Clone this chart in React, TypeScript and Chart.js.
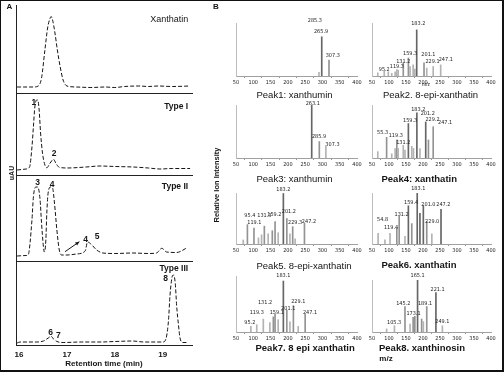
import React, { useEffect, useRef } from "react";
import { Chart, registerables } from "chart.js";

Chart.register(...registerables);

const SANS = "'Liberation Sans', Arial, Helvetica, sans-serif";
const NARROW = "'Liberation Sans Narrow', 'DejaVu Sans Condensed', 'Liberation Sans', sans-serif";
const INK = "#151515";

// ---------------- Panel A: chromatograms ----------------
const retentionTicks = [16, 17, 18, 19];

const xanthatinTime = [15.96, 16.3, 16.4, 16.47, 16.54, 16.6, 16.65, 16.67, 16.7, 16.75, 16.8, 16.86, 16.92, 17.0, 17.2, 17.5, 17.8, 18.0, 18.2, 18.5, 18.7, 18.9, 19.2, 19.57];
const xanthatinSignal = [1, 1, 2, 10, 38, 61, 70, 71.5, 68, 55, 38, 21, 8, 2, 1, 0.5, 1, 0.5, 1.5, 2, 1.5, 2, 1.5, 2];

const type1Time = [15.96, 16.15, 16.22, 16.27, 16.3, 16.33, 16.37, 16.39, 16.42, 16.45, 16.49, 16.54, 16.58, 16.65, 16.72, 16.77, 16.84, 17.0, 17.4, 17.69, 18.0, 18.38, 18.7, 18.94, 19.2, 19.57];
const type1Signal = [0, 1, 3, 23, 43, 63, 70, 70, 60, 37, 17, 5, 2.3, 7, 10.7, 6.7, 2.7, 2, 3, 4, 3.5, 3, 2, 1, 1.5, 1.5];

const type2Time = [15.96, 16.15, 16.19, 16.27, 16.3, 16.35, 16.39, 16.44, 16.47, 16.51, 16.53, 16.56, 16.58, 16.61, 16.66, 16.7, 16.74, 16.79, 16.84, 16.89, 17.0, 17.2, 17.38, 17.43, 17.52, 17.62, 17.75, 18.0, 18.38, 18.7, 18.87, 18.98, 19.08, 19.29, 19.5];
const type2Signal = [0, 0.5, 1, 36, 59, 69, 69, 56, 33, 9, 4, 16, 43, 64, 69, 68, 53, 26, 6, 1, 1, 2, 5, 14, 11, 6, 3, 2.5, 3, 2.5, 3, 7.7, 4, 3.5, 8];

const type3Time = [15.96, 16.02, 16.37, 16.51, 16.61, 16.67, 16.72, 16.79, 16.92, 17.3, 17.69, 18.0, 18.38, 18.6, 18.87, 19.01, 19.08, 19.12, 19.15, 19.19, 19.22, 19.26, 19.29, 19.33, 19.36, 19.42, 19.5];
const type3Signal = [0, 1, 1, 2, 5, 6.7, 4, 1.5, 0.5, 1, 1, 1.5, 2, 1, 1, 1, 7, 23, 47, 65, 68, 60, 37, 17, 5, 0.5, 0.5];

// [text, retention time, signal]
const xanthatinNotes: [string, number, number][] = [["Xanthatin", 19.53, 68]];
const type1Notes: [string, number, number][] = [["Type I", 19.53, 63], ["1", 16.31, 67], ["2", 16.73, 16.3]];
const type2Notes: [string, number, number][] = [["Type II", 19.53, 69.5], ["3", 16.39, 73], ["4", 16.69, 71.5], ["4", 17.39, 16], ["5", 17.63, 19]];
const type3Notes: [string, number, number][] = [["Type III", 19.53, 74], ["6", 16.66, 10.3], ["7", 16.82, 7], ["8", 19.06, 64.3]];
const type2Arrow: [number, number, number, number] = [16.96, 4.3, 17.26, 14.3];

// ---------------- Panel B: mass spectra ----------------
const mzTicks = [50, 100, 150, 200, 250, 300, 350, 400];

const peak1Mz = [290, 298, 319];
const peak1Int = [7, 74, 30];
const peak1Labels: [string, number, number][] = [["285.3", 278, 104], ["265.9", 296, 83], ["307.3", 330, 38]];

const peak2Mz = [67, 86, 98, 108, 118, 123, 127, 142, 157, 162, 171, 176, 181.5, 203, 211, 230, 252];
const peak2Int = [6, 9, 8, 5, 8, 12, 11, 25, 34, 18, 21, 13, 87, 25, 15, 18, 21];
const peak2Labels: [string, number, number][] = [["183.2", 186, 98], ["159.3", 162, 43], ["131.2", 142, 28], ["119.3", 123, 18], ["95.2", 86, 13], ["201.1", 216, 41], ["229.1", 228, 28], ["247.1", 267, 31]];

const peak3Mz = [269, 291, 310];
const peak3Int = [100, 31, 22];
const peak3Labels: [string, number, number][] = [["263.1", 272, 103], ["285.9", 290, 40], ["307.3", 329, 25]];

const peak4Mz = [67, 93, 108, 118, 123, 127, 142, 147, 157, 167, 172, 182, 191, 208, 216, 230];
const peak4Int = [12, 39, 8, 18, 34, 18, 24, 15, 65, 22, 18, 85, 18, 68, 34, 59];
const peak4Labels: [string, number, number][] = [["183.2", 186, 91], ["201.2", 214, 83], ["159.3", 162, 70], ["229.2", 228, 73], ["247.1", 265, 67], ["55.3", 81, 48], ["119.3", 120, 42], ["131.2", 142, 30]];

const peak5Mz = [71, 83, 102, 115, 124, 132, 143, 155, 163, 172, 187, 197, 206, 214, 221, 248];
const peak5Int = [8, 38, 31, 12, 18, 35, 20, 26, 44, 22, 99, 50, 20, 34, 10, 41];
const peak5Labels: [string, number, number][] = [["183.2", 187, 107], ["159.2", 161, 58], ["201.2", 203, 63], ["229.3", 221, 42], ["247.2", 261, 44], ["95.4", 90, 55], ["119.1", 103, 42], ["131.3", 132, 55]];

const peak6Mz = [68, 88, 103, 123, 130, 147, 157, 167, 183, 191, 201, 211, 226, 253];
const peak6Int = [21, 8, 21, 31, 55, 15, 75, 40, 100, 60, 75, 44, 20, 68];
const peak6Labels: [string, number, number][] = [["183.1", 186, 109], ["159.4", 165, 81], ["201.0", 216, 78], ["247.2", 260, 78], ["229.0", 227, 44], ["131.2", 137, 58], ["54.8", 81, 47], ["119.4", 106, 32]];

const peak7Mz = [93, 110, 129, 148, 158, 163, 172, 187, 197, 206, 216, 230, 250];
const peak7Int = [10, 13, 23, 17, 27, 32, 22, 91, 39, 18, 47, 10, 32];
const peak7Labels: [string, number, number][] = [["183.1", 187, 100], ["131.2", 134, 52], ["119.3", 110, 35], ["159.1", 168, 35], ["201.1", 201, 42], ["229.1", 230, 54], ["247.1", 264, 35], ["95.2", 90, 17]];

const peak8Mz = [93, 116, 147, 162, 171, 176, 184, 196, 201, 211, 238, 257];
const peak8Int = [6, 12, 49, 15, 28, 30, 100, 25, 20, 49, 76, 12];
const peak8Labels: [string, number, number][] = [["165.1", 184, 108], ["221.1", 243, 82], ["145.2", 142, 54], ["189.1", 206, 54], ["173.1", 172, 36], ["105.3", 115, 19], ["249.1", 257, 21]];

// ---------------- plugin: text notes & arrow at data coordinates ----------------
const notesPlugin = {
  id: "notes",
  afterDatasetsDraw(chart: any, _args: any, opts: any) {
    const { ctx, scales } = chart;
    const xs = scales.x;
    const ys = scales.y;
    ctx.save();
    ctx.textBaseline = "middle";
    for (const n of opts.items || []) {
      ctx.font = n.font;
      ctx.fillStyle = n.color || INK;
      ctx.textAlign = n.align || "center";
      ctx.fillText(n.text, xs.getPixelForValue(n.x), ys.getPixelForValue(n.y));
    }
    if (opts.arrow) {
      const [x1, y1, x2, y2] = opts.arrow;
      const px1 = xs.getPixelForValue(x1);
      const py1 = ys.getPixelForValue(y1);
      const px2 = xs.getPixelForValue(x2);
      const py2 = ys.getPixelForValue(y2);
      const ang = Math.atan2(py2 - py1, px2 - px1);
      ctx.strokeStyle = INK;
      ctx.fillStyle = INK;
      ctx.lineWidth = 1;
      ctx.beginPath();
      ctx.moveTo(px1, py1);
      ctx.lineTo(px2, py2);
      ctx.stroke();
      const L = 4.5;
      ctx.beginPath();
      ctx.moveTo(px2, py2);
      ctx.lineTo(px2 - L * Math.cos(ang - 0.45), py2 - L * Math.sin(ang - 0.45));
      ctx.lineTo(px2 - L * Math.cos(ang + 0.45), py2 - L * Math.sin(ang + 0.45));
      ctx.closePath();
      ctx.fill();
    }
    ctx.restore();
  },
};

type Box = { x: number; y: number; w: number; h: number };

function ChartBox({ box, make }: { box: Box; make: () => any }) {
  const ref = useRef<HTMLCanvasElement | null>(null);
  useEffect(() => {
    if (!ref.current) return;
    const chart = new Chart(ref.current, make());
    return () => chart.destroy();
  }, []);
  return (
    <canvas
      ref={ref}
      width={box.w}
      height={box.h}
      style={{ position: "absolute", left: box.x, top: box.y, width: box.w, height: box.h }}
    />
  );
}

const TYPE_FONT = `bold 8.5px ${SANS}`;
const NAME_FONT = `9px ${SANS}`;
const NUM_FONT = `bold 8.5px ${SANS}`;

function chromConfig(p: {
  time: number[];
  signal: number[];
  yMin: number;
  yMax: number;
  padTop: number;
  xHeight: number;
  notes: [string, number, number][];
  arrow?: [number, number, number, number];
  bottom?: boolean;
  plainTitle?: boolean;
}) {
  const items = p.notes.map(([text, x, y], i) => ({
    text,
    x,
    y,
    font: i === 0 ? (p.plainTitle ? NAME_FONT : TYPE_FONT) : NUM_FONT,
    align: i === 0 ? "right" : "center",
  }));
  return {
    type: "line",
    data: {
      datasets: [
        {
          data: p.time.map((t, i) => ({ x: t, y: p.signal[i] })),
          borderColor: INK,
          borderWidth: 1,
          borderDash: [4, 2],
          pointRadius: 0,
          cubicInterpolationMode: "monotone",
          fill: false,
        },
      ],
    },
    options: {
      animation: false,
      responsive: false,
      events: [],
      layout: { padding: { left: 16, right: 8, top: p.padTop, bottom: 0 } },
      plugins: {
        legend: { display: false },
        tooltip: { enabled: false },
        notes: { items, arrow: p.arrow },
      },
      scales: {
        x: {
          type: "linear",
          min: 15.937,
          max: 19.61,
          offset: false,
          afterFit: (s: any) => {
            s.height = p.xHeight;
          },
          afterBuildTicks: (s: any) => {
            s.ticks = retentionTicks.map((v) => ({ value: v }));
          },
          grid: { display: false, drawTicks: false },
          border: { display: true, color: "#222", width: 1 },
          ticks: {
            display: !!p.bottom,
            padding: 5,
            color: INK,
            maxRotation: 0,
            autoSkip: false,
            font: { family: SANS, size: 8, weight: "bold" },
          },
          title: {
            display: !!p.bottom,
            text: "Retention time (min)",
            color: INK,
            font: { family: SANS, size: 8, weight: "bold" },
            padding: { top: 0, bottom: 3.7 },
          },
        },
        y: {
          min: p.yMin,
          max: p.yMax,
          afterFit: (s: any) => {
            s.width = 0;
          },
          grid: { display: false, drawTicks: false },
          border: { display: true, color: "#222", width: 1 },
          ticks: { display: false },
        },
      },
    },
    plugins: [notesPlugin],
  };
}

function barColor(v: number) {
  if (v >= 60) return "#666666";
  if (v >= 25) return "#939393";
  return "#b3b3b3";
}

function specConfig(mz: number[], inten: number[], labels: [string, number, number][]) {
  return {
    type: "bar",
    data: {
      datasets: [
        {
          data: mz.map((m, i) => ({ x: m, y: inten[i] })),
          backgroundColor: inten.map(barColor),
          barThickness: 1,
        },
      ],
    },
    options: {
      animation: false,
      responsive: false,
      events: [],
      layout: { padding: { left: 14, right: 14, top: 12, bottom: 0 } },
      plugins: {
        legend: { display: false },
        tooltip: { enabled: false },
        notes: {
          items: labels.map(([text, x, y]) => ({ text, x, y, font: `5.5px ${NARROW}`, color: "#222" })),
        },
      },
      scales: {
        x: {
          type: "linear",
          min: 50,
          max: 400,
          offset: false,
          afterFit: (s: any) => {
            s.height = 12;
          },
          afterBuildTicks: (s: any) => {
            s.ticks = mzTicks.map((v) => ({ value: v }));
          },
          grid: { display: true, drawOnChartArea: false, drawTicks: true, tickLength: 2, color: "#999" },
          border: { display: true, color: "#a0a0a0", width: 1, dash: [2, 1] },
          ticks: {
            padding: 1,
            color: "#222",
            maxRotation: 0,
            autoSkip: false,
            font: { family: NARROW, size: 5.5 },
          },
        },
        y: {
          min: 0,
          max: 100,
          afterFit: (s: any) => {
            s.width = 0;
          },
          grid: { display: false, drawTicks: false },
          border: { display: true, color: "#bdbdbd", width: 1 },
          ticks: { display: false },
        },
      },
    },
    plugins: [notesPlugin],
  };
}

function specBox(left: number, right: number, top: number, base: number): Box {
  const y = top - 12;
  return { x: left - 14, y, w: right - left + 28, h: base - y + 12 };
}

function Txt({
  x,
  y,
  text,
  size,
  weight = "bold",
  anchor = "center",
}: {
  x: number;
  y: number;
  text: string;
  size: number;
  weight?: string;
  anchor?: "center" | "left";
}) {
  const tx = anchor === "center" ? "-50%" : "0";
  return (
    <div
      style={{
        position: "absolute",
        left: x,
        top: y,
        transform: `translate(${tx}, -50%)`,
        whiteSpace: "nowrap",
        fontFamily: SANS,
        fontSize: size,
        fontWeight: weight as any,
        color: INK,
        lineHeight: 1,
      }}
    >
      {text}
    </div>
  );
}

function RotTxt({ x, y, text, size }: { x: number; y: number; text: string; size: number }) {
  return (
    <div
      style={{
        position: "absolute",
        left: x,
        top: y,
        transform: "translate(-50%, -50%) rotate(-90deg)",
        whiteSpace: "nowrap",
        fontFamily: SANS,
        fontSize: size,
        fontWeight: "bold",
        color: INK,
        lineHeight: 1,
      }}
    >
      {text}
    </div>
  );
}

const C1 = [236, 357];
const C2 = [372, 491];

export default function App() {
  return (
    <div style={{ position: "fixed", left: 0, top: 0, width: 504, height: 372, background: "#fff", overflow: "hidden" }}>
      {/* Panel A */}
      <ChartBox
        box={{ x: 0, y: 0, w: 200, h: 95 }}
        make={() => chromConfig({ time: xanthatinTime, signal: xanthatinSignal, yMin: -5, yMax: 83, padTop: 5, xHeight: 2, notes: xanthatinNotes, plainTitle: true })}
      />
      <ChartBox
        box={{ x: 0, y: 90, w: 200, h: 88 }}
        make={() => chromConfig({ time: type1Time, signal: type1Signal, yMin: -5, yMax: 77, padTop: 3, xHeight: 3, notes: type1Notes })}
      />
      <ChartBox
        box={{ x: 0, y: 172, w: 200, h: 92 }}
        make={() => chromConfig({ time: type2Time, signal: type2Signal, yMin: -5, yMax: 81, padTop: 3, xHeight: 3, notes: type2Notes, arrow: type2Arrow })}
      />
      <ChartBox
        box={{ x: 0, y: 258, w: 200, h: 114 }}
        make={() => chromConfig({ time: type3Time, signal: type3Signal, yMin: -2, yMax: 82, padTop: 3, xHeight: 27, notes: type3Notes, bottom: true })}
      />

      {/* Panel B */}
      <ChartBox box={specBox(C1[0], C1[1], 23, 76)} make={() => specConfig(peak1Mz, peak1Int, peak1Labels)} />
      <ChartBox box={specBox(C2[0], C2[1], 23, 76)} make={() => specConfig(peak2Mz, peak2Int, peak2Labels)} />
      <ChartBox box={specBox(C1[0], C1[1], 105, 158)} make={() => specConfig(peak3Mz, peak3Int, peak3Labels)} />
      <ChartBox box={specBox(C2[0], C2[1], 105, 158)} make={() => specConfig(peak4Mz, peak4Int, peak4Labels)} />
      <ChartBox box={specBox(C1[0], C1[1], 193, 244)} make={() => specConfig(peak5Mz, peak5Int, peak5Labels)} />
      <ChartBox box={specBox(C2[0], C2[1], 193, 244)} make={() => specConfig(peak6Mz, peak6Int, peak6Labels)} />
      <ChartBox box={specBox(C1[0], C1[1], 276, 332)} make={() => specConfig(peak7Mz, peak7Int, peak7Labels)} />
      <ChartBox box={specBox(C2[0], C2[1], 280, 332)} make={() => specConfig(peak8Mz, peak8Int, peak8Labels)} />

      {/* spectrum titles */}
      <Txt x={256.5} y={95} text="Peak1: xanthumin" size={9.5} weight="normal" anchor="left" />
      <Txt x={383} y={95} text="Peak2. 8-epi-xanthatin" size={9.5} weight="normal" anchor="left" />
      <Txt x={256.5} y={179} text="Peak3: xanthumin" size={9.5} weight="normal" anchor="left" />
      <Txt x={381.5} y={179} text="Peak4: xanthatin" size={9.5} weight="bold" anchor="left" />
      <Txt x={256.5} y={266} text="Peak5. 8-epi-xanthatin" size={9.5} weight="normal" anchor="left" />
      <Txt x={381.5} y={265} text="Peak6. xanthatin" size={9.5} weight="bold" anchor="left" />
      <Txt x={255.5} y={348} text="Peak7. 8 epi xanthatin" size={9.5} weight="bold" anchor="left" />
      <Txt x={379} y={348} text="Peak8. xanthinosin" size={9.5} weight="bold" anchor="left" />

      {/* panel letters and axis titles */}
      <Txt x={9.5} y={7} text="A" size={8} />
      <Txt x={216} y={7} text="B" size={8} />
      <RotTxt x={10.5} y={173} text="uAU" size={7} />
      <RotTxt x={217} y={185} text="Relative Ion Intensity" size={7.5} />
      <Txt x={386} y={359} text="m/z" size={8} />
      <Txt x={426} y={84} text="m/z" size={5} weight="normal" />

      {/* outer frame */}
      <div
        style={{
          position: "absolute",
          inset: 0,
          boxSizing: "border-box",
          borderTop: "1px solid #111",
          borderLeft: "1px solid #111",
          borderRight: "2px solid #111",
          borderBottom: "2px solid #111",
          pointerEvents: "none",
        }}
      />
    </div>
  );
}
